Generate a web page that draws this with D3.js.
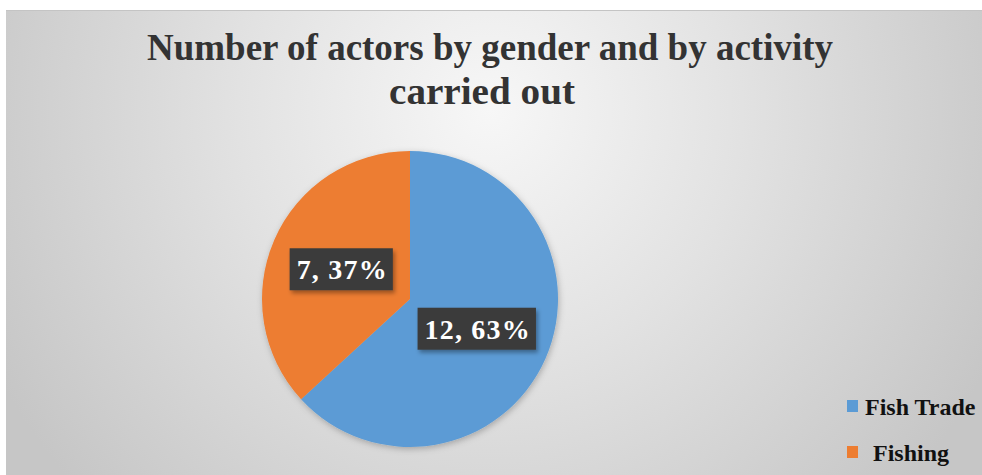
<!DOCTYPE html>
<html>
<head>
<meta charset="utf-8">
<script src="https://cdn.jsdelivr.net/npm/d3@7"></script>
<style>
  html, body { margin: 0; padding: 0; background: #ffffff; }
  svg { display: block; }
</style>
</head>
<body>
<svg id="chart" width="982" height="475"></svg>
<script>
// Actors by activity
const categories = ["Fish Trade", "Fishing"];
const values = [12, 7];
const colors = ["#5b9bd5", "#ed7d31"];
const titleLines = ["Number of actors by gender and by activity", "carried out"];

const W = 982, H = 475;
const svg = d3.select("#chart");
const defs = svg.append("defs");

// Chart area background: soft radial grey gradient
const bg = defs.append("radialGradient")
  .attr("id", "bgGrad")
  .attr("gradientUnits", "userSpaceOnUse")
  .attr("cx", 490).attr("cy", 110).attr("r", 560);
bg.append("stop").attr("offset", "0%").attr("stop-color", "#f7f7f7");
bg.append("stop").attr("offset", "45%").attr("stop-color", "#e2e2e2");
bg.append("stop").attr("offset", "100%").attr("stop-color", "#c6c6c6");

const shadow = defs.append("filter").attr("id", "pieShadow")
  .attr("x", "-20%").attr("y", "-20%").attr("width", "140%").attr("height", "140%");
shadow.append("feDropShadow").attr("dx", 1).attr("dy", 2).attr("stdDeviation", 3)
  .attr("flood-color", "#000").attr("flood-opacity", 0.25);

const boxShadow = defs.append("filter").attr("id", "boxShadow")
  .attr("x", "-20%").attr("y", "-30%").attr("width", "140%").attr("height", "170%");
boxShadow.append("feDropShadow").attr("dx", 2).attr("dy", 3).attr("stdDeviation", 2)
  .attr("flood-color", "#000").attr("flood-opacity", 0.35);

const area = { x: 6, y: 10, w: W - 6, h: H - 10 };
svg.append("rect")
  .attr("x", area.x).attr("y", area.y)
  .attr("width", area.w).attr("height", area.h)
  .attr("fill", "url(#bgGrad)");
svg.append("line")
  .attr("x1", area.x).attr("x2", W)
  .attr("y1", area.y + 0.5).attr("y2", area.y + 0.5)
  .attr("stroke", "#c4c4c4").attr("stroke-width", 1);

// Title
const title = svg.append("g")
  .attr("font-family", "'Liberation Serif', 'Times New Roman', serif")
  .attr("font-weight", "bold")
  .attr("fill", "#333333")
  .attr("text-anchor", "middle");
title.append("text")
  .attr("x", 490).attr("y", 60)
  .attr("font-size", 37)
  .attr("textLength", 686).attr("lengthAdjust", "spacingAndGlyphs")
  .text(titleLines[0]);
title.append("text")
  .attr("x", 482).attr("y", 104)
  .attr("font-size", 37)
  .attr("textLength", 186).attr("lengthAdjust", "spacingAndGlyphs")
  .text(titleLines[1]);

// Pie
const cx = 410, cy = 299, radius = 148;
const total = d3.sum(values);
const pie = d3.pie().sort(null).value(d => d.value);
const arcs = pie(categories.map((c, i) => ({ name: c, value: values[i], color: colors[i] })));
const arc = d3.arc().innerRadius(0).outerRadius(radius);

const pieG = svg.append("g").attr("transform", `translate(${cx},${cy})`);
pieG.append("g").attr("filter", "url(#pieShadow)")
  .selectAll("path").data(arcs).join("path")
  .attr("d", arc)
  .attr("fill", d => d.data.color)
  .attr("stroke", "none");

// Data labels: "value, percent"
const labelText = d => `${d.data.value}, ${Math.round(d.data.value / total * 100)}%`;
const labels = pieG.selectAll("g.lbl").data(arcs).join("g")
  .attr("class", "lbl")
  .attr("transform", d => `translate(${arc.centroid(d)})`);
labels.each(function (d) {
  const g = d3.select(this);
  const t = g.append("text")
    .attr("text-anchor", "middle")
    .attr("y", 10)
    .attr("font-family", "'Liberation Serif', 'Times New Roman', serif")
    .attr("font-weight", "bold")
    .attr("font-size", 28)
    .attr("fill", "#ffffff")
    .attr("letter-spacing", 1.2)
    .text(labelText(d));
  const bb = t.node().getBBox();
  g.insert("rect", "text")
    .attr("x", bb.x - 7).attr("y", -21)
    .attr("width", bb.width + 12).attr("height", 42)
    .attr("fill", "#3b3b3b")
    .attr("filter", "url(#boxShadow)");
});

// Legend
const legend = svg.append("g")
  .attr("font-family", "'Liberation Serif', 'Times New Roman', serif")
  .attr("font-weight", "bold")
  .attr("font-size", 24)
  .attr("fill", "#111111");
const legendRows = [
  { sx: 847, sy: 400, tx: 865, ty: 415 },
  { sx: 847, sy: 446, tx: 873, ty: 461 }
];
categories.forEach((c, i) => {
  const r = legendRows[i];
  legend.append("rect")
    .attr("x", r.sx).attr("y", r.sy)
    .attr("width", 11).attr("height", 12)
    .attr("fill", colors[i]);
  legend.append("text")
    .attr("x", r.tx).attr("y", r.ty)
    .text(c);
});
</script>
</body>
</html>
